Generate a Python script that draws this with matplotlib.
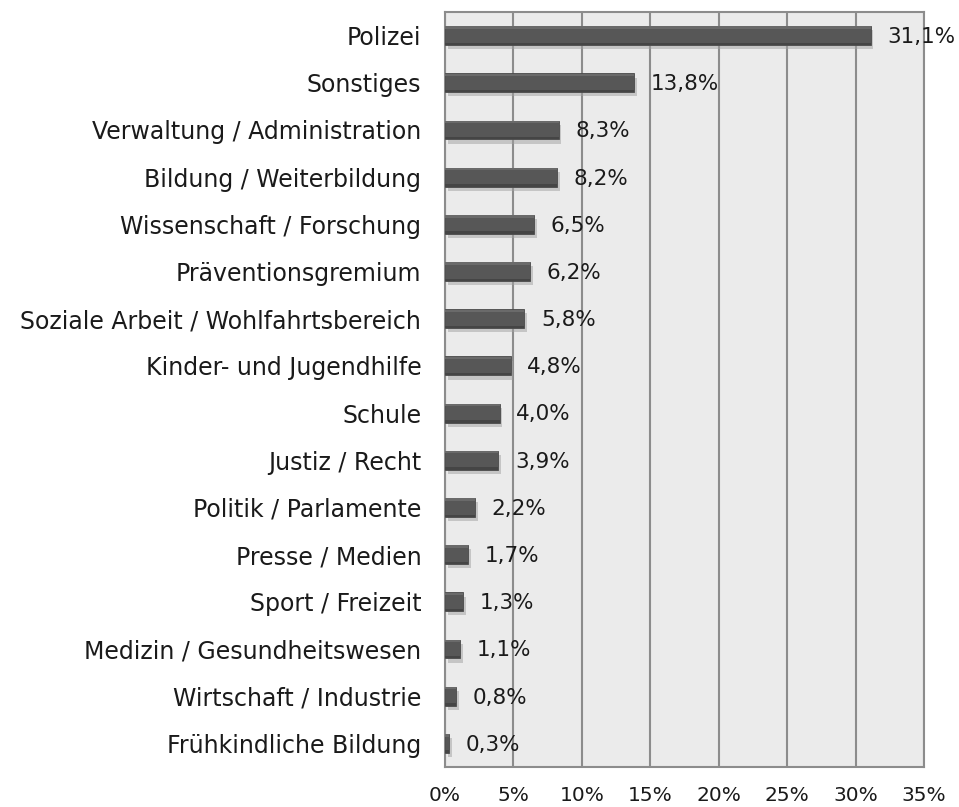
import numpy as np
import matplotlib.pyplot as plt
import matplotlib.patheffects as pe

categories = ['Polizei', 'Sonstiges', 'Verwaltung / Administration',
              'Bildung / Weiterbildung', 'Wissenschaft / Forschung',
              'Präventionsgremium', 'Soziale Arbeit / Wohlfahrtsbereich',
              'Kinder- und Jugendhilfe', 'Schule', 'Justiz / Recht',
              'Politik / Parlamente', 'Presse / Medien', 'Sport / Freizeit',
              'Medizin / Gesundheitswesen', 'Wirtschaft / Industrie',
              'Frühkindliche Bildung']
values = [31.1, 13.8, 8.3, 8.2, 6.5, 6.2, 5.8, 4.8, 4.0, 3.9,
          2.2, 1.7, 1.3, 1.1, 0.8, 0.3]
xticks = [0, 5, 10, 15, 20, 25, 30, 35]

plt.rcParams['font.family'] = ['DejaVu Sans']

fig = plt.figure(figsize=(9.59, 8.07), dpi=100)
ax = fig.add_axes([0.464, 0.0496, 0.4995, 0.9355])
ax.set_facecolor('#ebebeb')

y = np.arange(len(categories))[::-1]

ax.set_axisbelow(True)
ax.grid(axis='x', color='#8c8c8c', linewidth=1.5)

# bars with a soft shadow, a lighter top edge and a darker bottom edge
bars = ax.barh(y, values, height=0.4, color='#575757', edgecolor='#4a4a4a',
               linewidth=0.6, zorder=3)
for b in bars:
    b.set_path_effects([pe.withSimplePatchShadow(offset=(2, -3), shadow_rgbFace='#a0a0a0', alpha=0.5)])
ax.barh(y + 0.17, values, height=0.05, color='#6a6a6a', linewidth=0, zorder=4)
ax.barh(y - 0.175, values, height=0.05, color='#454545', linewidth=0, zorder=4)

for yi, v in zip(y, values):
    ax.annotate(f'{v:.1f}%'.replace('.', ','), (v, yi), xytext=(12, -1),
                textcoords='offset points', va='center', ha='left',
                fontsize=15.5, color='#1a1a1a', zorder=5)

ax.set_xlim(0, 35)
ax.set_ylim(-0.5, len(categories) - 0.5)
ax.set_xticks(xticks)
ax.set_xticklabels([f'{t}%' for t in xticks])
ax.set_yticks(y)
ax.set_yticklabels(categories)
ax.tick_params(axis='x', length=0, pad=14, labelsize=14.5, colors='#1a1a1a')
ax.tick_params(axis='y', length=0, pad=17, labelsize=17, colors='#1a1a1a')

for s in ['top', 'right', 'bottom', 'left']:
    ax.spines[s].set_color('#8c8c8c')
    ax.spines[s].set_linewidth(1.5)

fig.savefig('out.png', dpi=100)
